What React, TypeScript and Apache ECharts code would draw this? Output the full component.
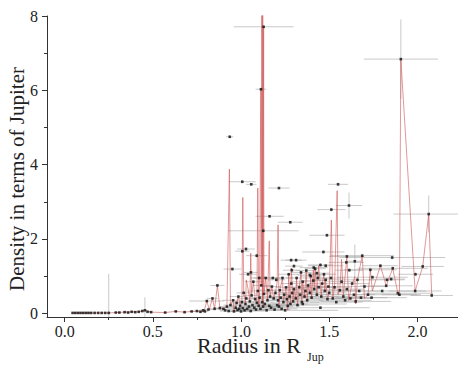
import React, { useEffect, useRef } from "react";
import * as echarts from "echarts";

// [radius (R_Jup), density (rho_Jup), radius error, density error]
const planets: [number, number, number, number][] = [
  [0.045, 0.01, 0.005, 0.005], [0.06, 0.01, 0.005, 0.005], [0.075, 0.01, 0.005, 0.005],
  [0.09, 0.01, 0.005, 0.005], [0.105, 0.01, 0.005, 0.005], [0.12, 0.01, 0.005, 0.005],
  [0.135, 0.01, 0.005, 0.005], [0.15, 0.01, 0.005, 0.005], [0.17, 0.01, 0.005, 0.005],
  [0.19, 0.01, 0.005, 0.005], [0.21, 0.01, 0.005, 0.005], [0.23, 0.01, 0.005, 0.005],
  [0.25, 0.01, 0.01, 1.05], [0.29, 0.02, 0.01, 0.01], [0.31, 0.02, 0.01, 0.01],
  [0.34, 0.03, 0.01, 0.01], [0.36, 0.02, 0.01, 0.01], [0.38, 0.04, 0.01, 0.01],
  [0.40, 0.03, 0.01, 0.01], [0.42, 0.04, 0.01, 0.01], [0.44, 0.06, 0.01, 0.01],
  [0.455, 0.08, 0.01, 0.35], [0.47, 0.04, 0.01, 0.01], [0.49, 0.03, 0.01, 0.01],
  [0.57, 0.02, 0.01, 0.01], [0.63, 0.05, 0.01, 0.01], [0.68, 0.03, 0.01, 0.01],
  [0.72, 0.05, 0.015, 0.01], [0.75, 0.06, 0.015, 0.01], [0.77, 0.04, 0.015, 0.01],
  [0.785, 0.08, 0.02, 0.01], [0.795, 0.05, 0.02, 0.01],
  [0.806, 0.33, 0.1, 0.03], [0.815, 0.10, 0.03, 0.02], [0.838, 0.40, 0.03, 0.03],
  [0.85, 0.12, 0.04, 0.02], [0.866, 0.75, 0.04, 0.04], [0.88, 0.14, 0.03, 0.02],
  [0.90, 0.12, 0.05, 0.02], [0.91, 0.08, 0.03, 0.02], [0.92, 0.18, 0.04, 0.02],
  [0.93, 0.06, 0.05, 0.02], [0.936, 4.75, 0.02, 0.03], [0.94, 0.22, 0.04, 0.03],
  [0.951, 1.19, 0.05, 0.05], [0.955, 0.35, 0.06, 0.03], [0.96, 0.05, 0.04, 0.02],
  [0.97, 0.15, 0.05, 0.02], [0.975, 0.28, 0.04, 0.03], [0.98, 0.09, 0.06, 0.02],
  [0.985, 0.45, 0.05, 0.03], [0.99, 0.12, 0.04, 0.02], [0.995, 0.20, 0.05, 0.02],
  [1.0, 0.05, 0.06, 0.02], [1.005, 0.30, 0.05, 0.03], [1.007, 1.67, 0.04, 0.05],
  [1.007, 3.54, 0.076, 0.05], [1.01, 0.14, 0.06, 0.02], [1.015, 0.55, 0.04, 0.03],
  [1.02, 0.08, 0.05, 0.02], [1.025, 0.25, 0.07, 0.03], [1.028, 1.73, 0.05, 0.05],
  [1.03, 0.40, 0.05, 0.03], [1.035, 0.12, 0.06, 0.02], [1.04, 1.05, 0.05, 0.04],
  [1.045, 0.18, 0.04, 0.02], [1.05, 0.32, 0.06, 0.03], [1.055, 0.06, 0.08, 0.02],
  [1.056, 1.10, 0.04, 0.04], [1.058, 3.47, 0.03, 0.03], [1.06, 0.48, 0.05, 0.03],
  [1.065, 0.22, 0.06, 0.02], [1.07, 0.85, 0.05, 0.04], [1.075, 0.15, 0.07, 0.02],
  [1.08, 0.38, 0.05, 0.03], [1.085, 0.10, 0.06, 0.02], [1.089, 1.55, 0.06, 0.05],
  [1.09, 0.28, 0.05, 0.03], [1.095, 0.60, 0.06, 0.03], [1.10, 0.20, 0.08, 0.02],
  [1.103, 0.95, 0.05, 0.04], [1.105, 0.42, 0.06, 0.03], [1.11, 0.12, 0.07, 0.02],
  [1.113, 6.03, 0.03, 0.03], [1.115, 0.75, 0.05, 0.03], [1.12, 0.30, 0.06, 0.03],
  [1.125, 0.18, 0.08, 0.02], [1.126, 2.22, 0.2, 0.05], [1.128, 7.71, 0.17, 0.03],
  [1.13, 0.52, 0.05, 0.03], [1.135, 0.25, 0.06, 0.02], [1.14, 0.95, 0.07, 0.04],
  [1.145, 0.08, 0.1, 0.02], [1.15, 0.35, 0.06, 0.03], [1.155, 0.62, 0.05, 0.03],
  [1.16, 0.20, 0.08, 0.02], [1.162, 2.61, 0.08, 0.03], [1.165, 0.45, 0.06, 0.03],
  [1.17, 0.15, 0.07, 0.02], [1.175, 0.72, 0.05, 0.03], [1.18, 0.95, 0.06, 0.04],
  [1.185, 0.40, 0.07, 0.03], [1.19, 0.10, 0.09, 0.02], [1.195, 0.55, 0.06, 0.03],
  [1.20, 0.90, 0.05, 0.04], [1.205, 0.22, 0.07, 0.02], [1.21, 0.35, 0.06, 0.03],
  [1.215, 0.18, 0.08, 0.02], [1.215, 3.37, 0.06, 0.03], [1.22, 0.62, 0.06, 0.03],
  [1.225, 0.42, 0.07, 0.03], [1.23, 0.12, 0.09, 0.02], [1.235, 0.95, 0.06, 0.04],
  [1.24, 0.30, 0.07, 0.03], [1.245, 0.50, 0.06, 0.03], [1.25, 0.08, 0.3, 0.03],
  [1.255, 0.70, 0.06, 0.03], [1.26, 0.38, 0.08, 0.03], [1.265, 0.20, 0.07, 0.02],
  [1.27, 1.05, 0.06, 0.04], [1.275, 0.45, 0.08, 0.03], [1.279, 2.45, 0.07, 0.03],
  [1.28, 0.25, 0.1, 0.02], [1.284, 1.43, 0.06, 0.05], [1.285, 0.80, 0.06, 0.04],
  [1.288, 1.16, 0.05, 0.04], [1.29, 0.55, 0.07, 0.03], [1.295, 0.32, 0.09, 0.03],
  [1.30, 0.65, 0.06, 0.03], [1.30, 1.27, 0.05, 0.05], [1.31, 0.40, 0.08, 0.03],
  [1.312, 1.43, 0.06, 0.05], [1.315, 0.95, 0.06, 0.04], [1.32, 0.22, 0.12, 0.02],
  [1.33, 0.70, 0.07, 0.03], [1.335, 0.50, 0.08, 0.03], [1.34, 1.10, 0.06, 0.04],
  [1.345, 0.30, 0.1, 0.03], [1.35, 0.85, 0.07, 0.04], [1.35, 0.25, 0.25, 0.03],
  [1.36, 0.45, 0.08, 0.03], [1.365, 0.60, 0.07, 0.03], [1.37, 1.15, 0.06, 0.04],
  [1.375, 0.35, 0.09, 0.03], [1.38, 0.75, 0.07, 0.03], [1.39, 0.55, 0.08, 0.03],
  [1.39, 1.03, 0.07, 0.04], [1.395, 1.00, 0.06, 0.04], [1.40, 0.42, 0.1, 0.03],
  [1.41, 0.88, 0.07, 0.04], [1.412, 1.23, 0.08, 0.05], [1.415, 0.65, 0.08, 0.03],
  [1.42, 1.20, 0.06, 0.05], [1.43, 0.50, 0.09, 0.03], [1.43, 1.08, 0.07, 0.04],
  [1.435, 0.95, 0.07, 0.04], [1.44, 0.70, 0.08, 0.03], [1.45, 0.15, 0.28, 0.03],
  [1.45, 1.30, 0.07, 0.05], [1.455, 0.45, 0.1, 0.03], [1.46, 0.80, 0.08, 0.04],
  [1.467, 1.65, 0.12, 0.05], [1.47, 1.05, 0.07, 0.04], [1.475, 0.60, 0.09, 0.03],
  [1.48, 0.90, 0.08, 0.04], [1.48, 1.28, 0.1, 0.05], [1.487, 2.10, 0.1, 0.05],
  [1.49, 0.38, 0.12, 0.03], [1.495, 0.72, 0.08, 0.03], [1.50, 0.55, 0.1, 0.03],
  [1.51, 0.95, 0.08, 0.04], [1.512, 2.79, 0.08, 0.05], [1.52, 0.40, 0.12, 0.03],
  [1.53, 0.70, 0.09, 0.03], [1.54, 0.30, 0.15, 0.03], [1.55, 3.47, 0.057, 0.05],
  [1.56, 0.62, 0.1, 0.03], [1.57, 0.85, 0.08, 0.04], [1.58, 0.45, 0.12, 0.03],
  [1.59, 0.35, 0.15, 0.03], [1.597, 1.37, 0.1, 0.05], [1.60, 0.65, 0.1, 0.03],
  [1.60, 1.53, 0.1, 0.05], [1.612, 2.90, 0.075, 0.35], [1.614, 1.16, 0.08, 0.05],
  [1.62, 0.40, 0.12, 0.03], [1.63, 0.80, 0.1, 0.04], [1.64, 0.50, 0.12, 0.03],
  [1.645, 1.40, 0.04, 0.45], [1.65, 0.32, 0.2, 0.03], [1.66, 0.90, 0.1, 0.04],
  [1.67, 0.60, 0.12, 0.03], [1.68, 0.42, 0.15, 0.03], [1.687, 1.55, 0.18, 0.05],
  [1.70, 0.72, 0.12, 0.03], [1.72, 0.50, 0.3, 0.03], [1.733, 1.17, 0.15, 0.05],
  [1.74, 0.42, 0.2, 0.03], [1.745, 0.97, 0.2, 0.05], [1.79, 1.28, 0.1, 0.05],
  [1.80, 0.60, 0.25, 0.03], [1.823, 0.74, 0.15, 0.04], [1.827, 0.90, 0.1, 0.04],
  [1.851, 0.92, 0.08, 0.04], [1.857, 1.50, 0.3, 0.05], [1.86, 1.21, 0.2, 0.05],
  [1.889, 0.54, 0.2, 0.04], [1.898, 0.50, 0.1, 0.04], [1.906, 6.84, 0.21, 1.07],
  [1.987, 0.60, 0.15, 0.05], [1.989, 1.05, 0.1, 0.05], [2.03, 1.26, 0.12, 0.05],
  [2.064, 2.67, 0.2, 0.5], [2.081, 0.48, 0.12, 0.05],
];

// red connecting curve, ordered by radius: [radius, density]
const trend: [number, number][] = [
  [0.045, 0.01], [0.08, 0.01], [0.12, 0.01], [0.17, 0.01], [0.21, 0.01], [0.25, 0.01],
  [0.29, 0.02], [0.34, 0.03], [0.38, 0.04], [0.42, 0.04], [0.455, 0.08], [0.49, 0.03],
  [0.57, 0.02], [0.63, 0.05], [0.68, 0.03], [0.72, 0.05], [0.76, 0.06], [0.79, 0.05],
  [0.806, 0.33], [0.82, 0.10], [0.838, 0.40], [0.85, 0.12], [0.866, 0.75], [0.88, 0.14],
  [0.90, 0.12], [0.92, 0.18], [0.934, 3.88], [0.94, 0.22], [0.955, 0.35], [0.96, 0.05],
  [0.975, 0.28], [0.985, 0.45], [0.995, 0.20], [1.005, 0.30], [1.01, 3.12], [1.015, 0.55],
  [1.025, 0.25], [1.03, 0.90], [1.04, 0.65], [1.05, 0.32], [1.055, 1.62], [1.06, 0.48],
  [1.07, 0.85], [1.08, 0.38], [1.09, 0.28], [1.095, 3.37], [1.10, 0.20], [1.105, 0.42],
  [1.112, 6.03], [1.115, 0.75], [1.118, 8.6], [1.121, 0.3], [1.123, 8.6], [1.125, 0.18],
  [1.128, 7.71], [1.13, 0.52],
  [1.14, 0.95], [1.15, 0.35], [1.16, 1.95], [1.165, 0.45], [1.175, 0.72], [1.185, 0.40],
  [1.195, 0.55], [1.205, 0.85], [1.21, 2.38], [1.215, 0.18], [1.22, 0.62], [1.235, 0.95],
  [1.24, 0.30], [1.255, 0.70], [1.265, 0.08], [1.27, 1.05], [1.28, 0.25], [1.285, 1.22],
  [1.295, 0.32], [1.30, 0.65], [1.31, 0.40], [1.315, 0.95], [1.32, 0.22], [1.33, 0.70],
  [1.34, 1.10], [1.345, 0.30], [1.35, 0.85], [1.36, 0.45], [1.37, 1.15], [1.375, 0.35],
  [1.38, 0.75], [1.39, 0.55], [1.395, 1.00], [1.40, 0.42], [1.41, 1.17], [1.415, 0.65],
  [1.42, 1.20], [1.43, 0.50], [1.44, 1.28], [1.455, 0.45], [1.46, 0.80], [1.47, 1.05],
  [1.475, 0.60], [1.48, 0.90], [1.49, 0.38], [1.50, 0.55], [1.512, 2.51], [1.52, 0.40],
  [1.53, 0.70], [1.545, 3.30], [1.55, 0.50], [1.56, 0.62], [1.57, 1.45], [1.58, 0.45],
  [1.60, 1.53], [1.61, 0.35], [1.63, 0.80], [1.645, 0.98], [1.65, 0.25], [1.66, 0.90],
  [1.687, 1.55], [1.70, 0.40], [1.72, 0.50], [1.733, 1.17], [1.745, 0.60], [1.79, 1.28],
  [1.823, 0.74], [1.86, 1.21], [1.889, 0.54], [1.898, 0.50], [1.906, 6.84], [1.987, 0.60],
  [2.03, 1.26], [2.064, 2.67], [2.081, 0.48],
];

const xMajorTicks = [0, 0.5, 1, 1.5, 2];
const xMinorTicks = [0.25, 0.75, 1.25, 1.75];
const yMajorTicks = [0, 2, 4, 6, 8];
const yMinorTicks = [1, 3, 5, 7];

const xTitle = "Radius in R";
const xTitleSub = "Jup";
const yTitle = "Density in terms of Jupiter";

export default function App() {
  const ref = useRef<HTMLDivElement>(null);

  useEffect(() => {
    if (!ref.current) return;
    const chart = echarts.init(ref.current, null, { renderer: "svg" });
    const font = "Liberation Serif, Times New Roman, serif";
    const textColor = "#222";
    const axisColor = "#333";
    const xRange = { min: -0.1, max: 2.23 };
    const yRange = { min: -0.1, max: 8 };

    const errorBars = (params: any, api: any) => {
      const x = api.value(0);
      const y = api.value(1);
      const ex = api.value(2);
      const ey = api.value(3);
      const l = api.coord([x - ex, y]);
      const r = api.coord([x + ex, y]);
      const b = api.coord([x, y - ey]);
      const t = api.coord([x, y + ey]);
      const style = { stroke: "rgba(165,165,165,0.6)", lineWidth: 1 };
      return {
        type: "group",
        children: [
          { type: "line", shape: { x1: l[0], y1: l[1], x2: r[0], y2: r[1] }, style },
          { type: "line", shape: { x1: b[0], y1: b[1], x2: t[0], y2: t[1] }, style },
        ],
      };
    };

    const option: any = {
      animation: false,
      grid: { left: 47, right: 0, top: 16, bottom: 49 },
      xAxis: [
        {
          type: "value",
          ...xRange,
          position: "bottom",
          splitLine: { show: false },
          axisLine: { show: true, onZero: false, lineStyle: { color: axisColor, width: 1 } },
          axisTick: { show: true, length: 5, customValues: xMajorTicks, lineStyle: { color: axisColor } },
          axisLabel: {
            customValues: xMajorTicks,
            formatter: (v: number) => v.toFixed(1),
            fontFamily: font,
            fontSize: 16,
            lineHeight: 12,
            color: textColor,
            margin: 8,
          },
        },
        {
          type: "value",
          ...xRange,
          position: "bottom",
          splitLine: { show: false },
          axisLine: { show: false, onZero: false },
          axisLabel: { show: false },
          axisTick: { show: true, length: 3, customValues: xMinorTicks, lineStyle: { color: axisColor } },
        },
      ],
      yAxis: [
        {
          type: "value",
          ...yRange,
          position: "left",
          splitLine: { show: false },
          axisLine: { show: true, onZero: false, lineStyle: { color: axisColor, width: 1 } },
          axisTick: { show: true, length: 5, customValues: yMajorTicks, lineStyle: { color: axisColor } },
          axisLabel: {
            customValues: yMajorTicks,
            fontFamily: font,
            fontSize: 16,
            color: textColor,
            margin: 9,
          },
        },
        {
          type: "value",
          ...yRange,
          position: "left",
          splitLine: { show: false },
          axisLine: { show: false, onZero: false },
          axisLabel: { show: false },
          axisTick: { show: true, length: 3, customValues: yMinorTicks, lineStyle: { color: axisColor } },
        },
      ],
      series: [
        {
          type: "custom",
          xAxisIndex: 0,
          yAxisIndex: 0,
          renderItem: errorBars,
          data: planets,
          encode: { x: 0, y: 1 },
          clip: true,
          silent: true,
          z: 1,
        },
        {
          type: "line",
          xAxisIndex: 0,
          yAxisIndex: 0,
          data: trend,
          symbol: "none",
          showSymbol: false,
          lineStyle: { color: "rgba(205,85,85,0.6)", width: 1 },
          clip: true,
          silent: true,
          z: 2,
        },
        {
          type: "scatter",
          xAxisIndex: 0,
          yAxisIndex: 0,
          data: planets.map((p) => [p[0], p[1]]),
          symbol: "rect",
          symbolSize: 2.6,
          itemStyle: { color: "#111" },
          clip: true,
          silent: true,
          z: 3,
        },
      ],
      graphic: [
        {
          type: "text",
          x: 17,
          y: 179,
          rotation: Math.PI / 2,
          style: {
            text: yTitle,
            font: `21px ${font}`,
            fill: textColor,
            align: "center",
            verticalAlign: "middle",
            textAlign: "center",
            textVerticalAlign: "middle",
          },
        },
        {
          type: "text",
          x: 197,
          y: 345,
          style: {
            text: xTitle,
            font: `22px ${font}`,
            lineHeight: 14,
            fill: textColor,
            align: "left",
            verticalAlign: "middle",
            textAlign: "left",
            textVerticalAlign: "middle",
          },
        },
        {
          type: "text",
          x: 307,
          y: 357,
          style: {
            text: xTitleSub,
            font: `12px ${font}`,
            fill: textColor,
            align: "left",
            verticalAlign: "middle",
            textAlign: "left",
            textVerticalAlign: "middle",
          },
        },
      ],
    };

    chart.setOption(option);
    return () => chart.dispose();
  }, []);

  return (
    <div
      ref={ref}
      style={{ position: "fixed", left: 0, top: 0, width: 458, height: 366, background: "#fff" }}
    />
  );
}
